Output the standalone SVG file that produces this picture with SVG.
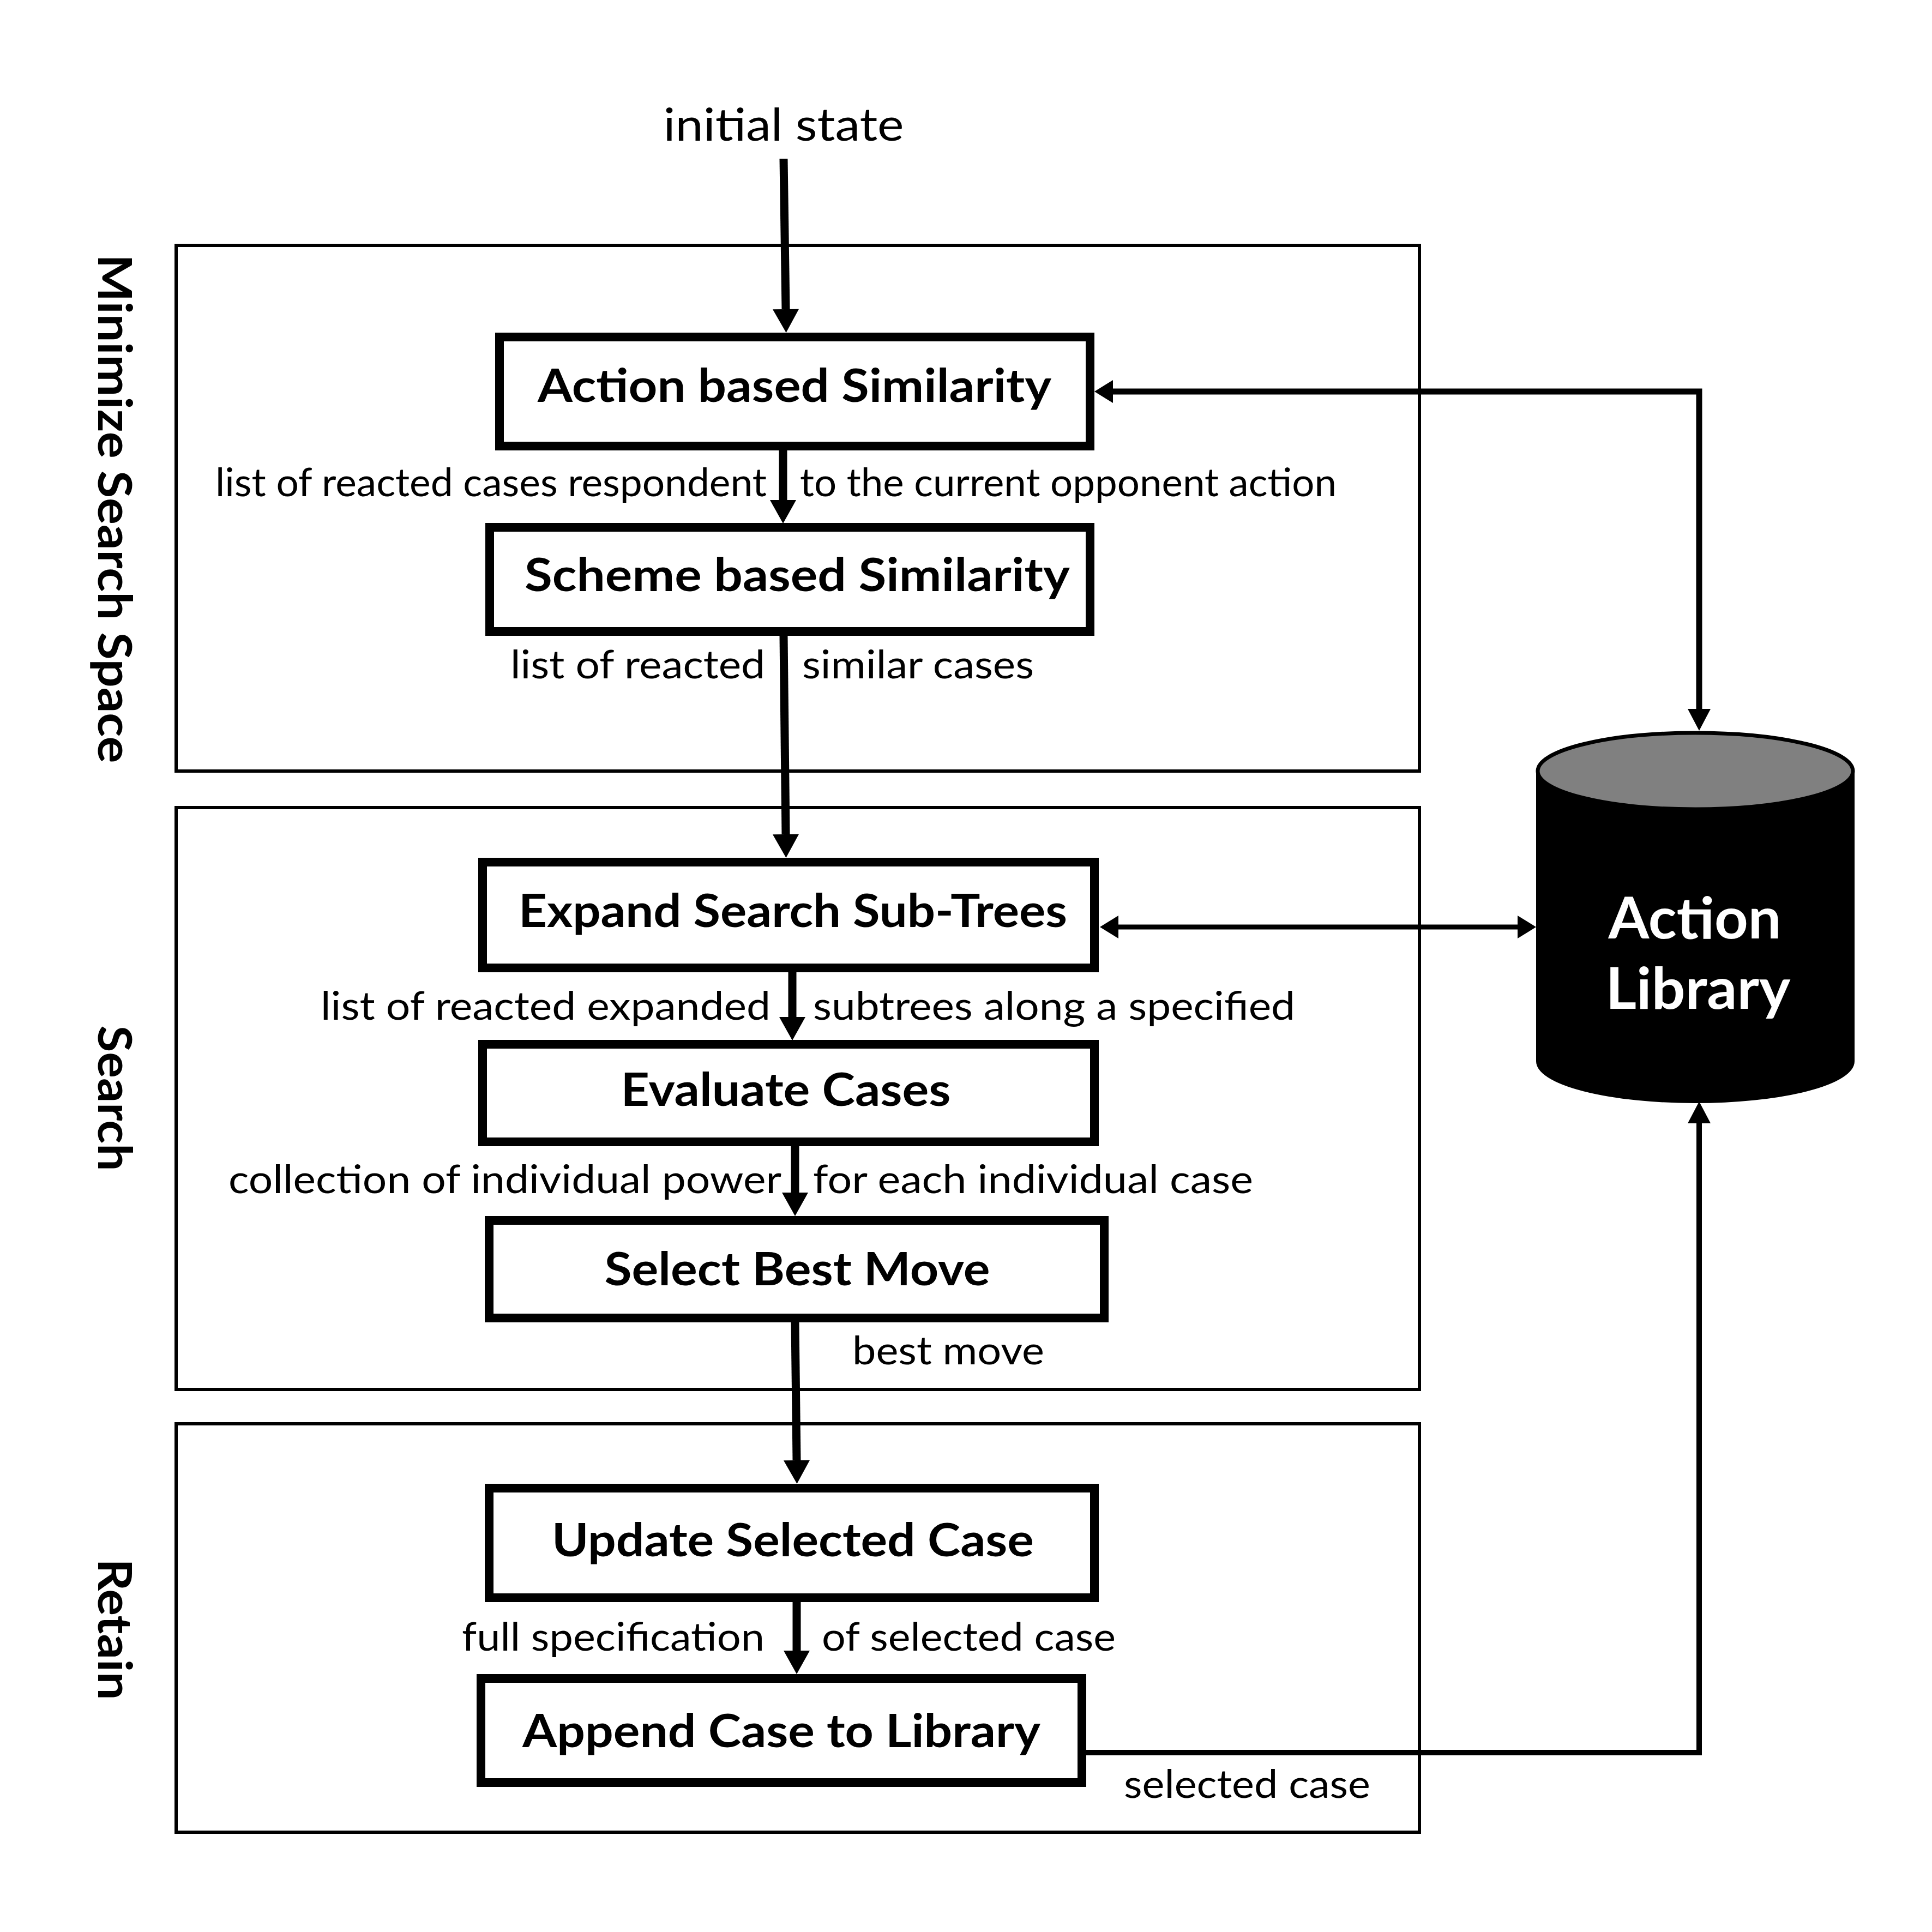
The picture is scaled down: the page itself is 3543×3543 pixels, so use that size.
<svg xmlns="http://www.w3.org/2000/svg" width="3543" height="3543" viewBox="0 0 3543 3543">
<style>
.grp{fill:none;stroke:#000;stroke-width:6}
.node{fill:#fff;stroke:#000;stroke-width:16}
.nt{font-family:Lato,"Open Sans","Liberation Sans",sans-serif;font-weight:bold;font-size:84px;fill:#000;text-anchor:middle}
.side{font-family:Lato,"Open Sans","Liberation Sans",sans-serif;font-weight:bold;font-size:86px;fill:#000;text-anchor:middle}
.lbl{font-family:Lato,"Open Sans","Liberation Sans",sans-serif;font-size:71px;fill:#000}
.main{fill:none;stroke:#000;stroke-width:15;marker-end:url(#arr)}
.lib{fill:none;stroke:#000}
</style>
<defs>
<marker id="arr" markerUnits="userSpaceOnUse" markerWidth="44" markerHeight="48" refX="0" refY="24" orient="auto" overflow="visible"><path d="M0,0 L43,24 L0,48 Z" fill="#000"/></marker>
<marker id="libh" markerUnits="userSpaceOnUse" markerWidth="35" markerHeight="42" refX="0" refY="21" orient="auto-start-reverse" overflow="visible"><path d="M0,0 L34,21 L0,42 Z" fill="#000"/></marker>
<marker id="libv" markerUnits="userSpaceOnUse" markerWidth="41" markerHeight="42" refX="0" refY="21" orient="auto" overflow="visible"><path d="M0,0 L40,21 L0,42 Z" fill="#000"/></marker>
</defs>
<rect width="3543" height="3543" fill="#fff"/>

<g id="phase-minimize">
<rect class="grp" x="323" y="450" width="2280" height="964"/>
<text class="side" transform="translate(180,933) rotate(90)" textLength="933" lengthAdjust="spacingAndGlyphs">Minimize Search Space</text>
</g>
<g id="phase-search">
<rect class="grp" x="323" y="1481" width="2280" height="1067"/>
<text class="side" transform="translate(180,2014) rotate(90)" textLength="267" lengthAdjust="spacingAndGlyphs">Search</text>
</g>
<g id="phase-retain">
<rect class="grp" x="323" y="2611" width="2280" height="749"/>
<text class="side" transform="translate(180,2988) rotate(90)" textLength="259" lengthAdjust="spacingAndGlyphs">Retain</text>
</g>

<text id="initial-state" x="1437" y="258" font-family="Lato,'Open Sans','Liberation Sans',sans-serif" font-size="84" text-anchor="middle" textLength="441" lengthAdjust="spacingAndGlyphs">initial state</text>

<g id="connectors">
<path class="main" d="M1437,291 L1441,567"/>
<path class="main" d="M1436,826 L1436,917"/>
<path class="main" d="M1437,1166 L1441,1530"/>
<path class="main" d="M1453,1783 L1453,1865"/>
<path class="main" d="M1458,2102 L1458,2187"/>
<path class="main" d="M1458,2425 L1461,2678"/>
<path class="main" d="M1461,2938 L1461,3027"/>
<path class="lib" stroke-width="11" d="M2041,718 L3116,718 L3116,1300" marker-start="url(#libh)" marker-end="url(#libv)"/>
<path class="lib" stroke-width="9" d="M2051,1700 L2783,1700" marker-start="url(#libh)" marker-end="url(#libh)"/>
<path class="lib" stroke-width="10" d="M1984,3214 L3116,3214 L3116,2060" marker-end="url(#libv)"/>
<g id="edge-labels">
<text class="lbl" x="395" y="910" textLength="1011" lengthAdjust="spacingAndGlyphs">list of reacted cases respondent</text>
<text class="lbl" x="1467" y="910" textLength="984" lengthAdjust="spacingAndGlyphs">to the current opponent action</text>
<text class="lbl" x="936" y="1244" textLength="467" lengthAdjust="spacingAndGlyphs">list of reacted</text>
<text class="lbl" x="1471" y="1244" textLength="425" lengthAdjust="spacingAndGlyphs">similar cases</text>
<text class="lbl" x="588" y="1870" textLength="825" lengthAdjust="spacingAndGlyphs">list of reacted expanded</text>
<text class="lbl" x="1491" y="1870" textLength="884" lengthAdjust="spacingAndGlyphs">subtrees along a specified</text>
<text class="lbl" x="419" y="2188" textLength="1014" lengthAdjust="spacingAndGlyphs">collection of individual power</text>
<text class="lbl" x="1491" y="2188" textLength="807" lengthAdjust="spacingAndGlyphs">for each individual case</text>
<text class="lbl" x="1563" y="2502" textLength="352" lengthAdjust="spacingAndGlyphs">best move</text>
<text class="lbl" x="847" y="3027" textLength="555" lengthAdjust="spacingAndGlyphs">full specification</text>
<text class="lbl" x="1507" y="3027" textLength="539" lengthAdjust="spacingAndGlyphs">of selected case</text>
<text class="lbl" x="2061" y="3297" textLength="452" lengthAdjust="spacingAndGlyphs">selected case</text>
</g>
</g>

<g id="node-action-sim">
<rect class="node" x="916" y="618" width="1083" height="200"/>
<text class="nt" x="1457" y="737" textLength="942" lengthAdjust="spacingAndGlyphs">Action based Similarity</text>
</g>
<g id="node-scheme-sim">
<rect class="node" x="898" y="967" width="1101" height="191"/>
<text class="nt" x="1462" y="1084" textLength="1000" lengthAdjust="spacingAndGlyphs">Scheme based Similarity</text>
</g>
<g id="node-expand">
<rect class="node" x="885" y="1581" width="1122" height="194"/>
<text class="nt" x="1454" y="1700" textLength="1006" lengthAdjust="spacingAndGlyphs">Expand Search Sub-Trees</text>
</g>
<g id="node-evaluate">
<rect class="node" x="885" y="1915" width="1122" height="179"/>
<text class="nt" x="1441" y="2028" textLength="605" lengthAdjust="spacingAndGlyphs">Evaluate Cases</text>
</g>
<g id="node-select">
<rect class="node" x="897" y="2238" width="1128" height="179"/>
<text class="nt" x="1462" y="2357" textLength="707" lengthAdjust="spacingAndGlyphs">Select Best Move</text>
</g>
<g id="node-update">
<rect class="node" x="897" y="2729" width="1110" height="201"/>
<text class="nt" x="1454" y="2854" textLength="884" lengthAdjust="spacingAndGlyphs">Update Selected Case</text>
</g>
<g id="node-append">
<rect class="node" x="882" y="3078" width="1102" height="191"/>
<text class="nt" x="1433" y="3204" textLength="950" lengthAdjust="spacingAndGlyphs">Append Case to Library</text>
</g>

<g id="node-action-library">
<path d="M2820,1414 V1946 A289,74 0 0 0 3398,1946 V1414 Z" fill="#000" stroke="#000" stroke-width="6"/>
<ellipse cx="3109" cy="1414" rx="289" ry="70" fill="#808080" stroke="#000" stroke-width="7"/>
<text x="3108" y="1721" font-family="Lato,'Open Sans','Liberation Sans',sans-serif" font-weight="bold" font-size="105" fill="#fff" text-anchor="middle" textLength="317" lengthAdjust="spacingAndGlyphs">Action</text>
<text x="3114" y="1850" font-family="Lato,'Open Sans','Liberation Sans',sans-serif" font-weight="bold" font-size="105" fill="#fff" text-anchor="middle" textLength="339" lengthAdjust="spacingAndGlyphs">Library</text>
</g>
</svg>
